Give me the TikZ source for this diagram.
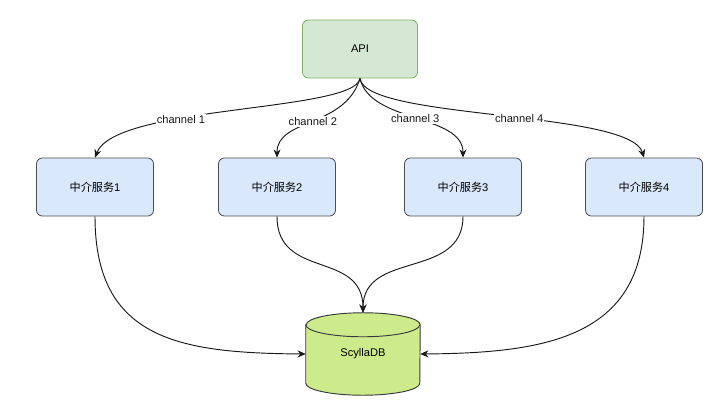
\documentclass[tikz,border=0pt]{standalone}
\usepackage{fontspec}
\setmainfont{Liberation Sans}
\newfontfamily\cjk{Noto Sans CJK SC}
\usepackage{tikz}
\usetikzlibrary{arrows.meta,positioning,backgrounds}
\definecolor{apigreen}{HTML}{D5E8D4}
\definecolor{apiedge}{HTML}{82B366}
\definecolor{svcblue}{HTML}{DAE8FC}
\definecolor{svcedge}{HTML}{4A4D52}
\definecolor{dbgreen}{HTML}{CDEB8B}
\definecolor{dbedge}{HTML}{36393D}

\begin{document}
\begin{tikzpicture}[x=0.03cm,y=-0.03cm,>={Stealth[length=7pt,width=6pt]},
    box/.style={rounded corners=5pt,line width=0.7pt,minimum height=1.74cm,font=\fontsize{9.5}{11}\selectfont},
    svc/.style={box,fill=svcblue,draw=svcedge,minimum width=3.51cm},
    link/.style={->,line width=0.8pt,black!90},
    chan/.style={fill=white,inner sep=1pt,font=\fontsize{9.5}{11}\selectfont}]
  \useasboundingbox (0,0) rectangle (720,414);
  \node[box,fill=apigreen,draw=apiedge,minimum width=3.45cm] (api) at (360,49) {API};
  \foreach \n/\x in {1/95,2/277,3/463,4/644}{
    \node[svc] (s\n) at (\x,187) {{\cjk 中介服务}\n};
  }
  % database cylinder
  \node[minimum width=3.42cm,minimum height=2.46cm,inner sep=0pt,font=\fontsize{9.5}{11}\selectfont] (db) at (363,354) {ScyllaDB};
  \begin{scope}[on background layer]
    \draw[dbedge,fill=dbgreen,line width=0.8pt] ([yshift=-0.36cm]db.north west) -- ([yshift=0.36cm]db.south west)
      arc[start angle=180,end angle=360,x radius=1.71cm,y radius=0.36cm]
      -- ([yshift=-0.36cm]db.north east)
      arc[start angle=0,end angle=180,x radius=1.71cm,y radius=0.36cm] -- cycle;
    \draw[dbedge,line width=0.8pt] ([yshift=-0.36cm]db.north west)
      arc[start angle=180,end angle=360,x radius=1.71cm,y radius=0.36cm];
  \end{scope}
  % channels
  \draw[link] (api.south) .. controls (355,112) and (115,105) .. (s1.north) node[chan,pos=0.64] {channel 1};
  \draw[link] (api.south) .. controls (345,128) and (277,118) .. (s2.north) node[chan,pos=0.5] {channel 2};
  \draw[link] (api.south) .. controls (370,123) and (463,114) .. (s3.north) node[chan,pos=0.5] {channel 3};
  \draw[link] (api.south) .. controls (365,120) and (630,110) .. (s4.north) node[chan,pos=0.55] {channel 4};
  % writes
  \draw[link] (s1.south) .. controls (95,340) and (180,353) .. (db.west);
  \draw[link] (s2.south) .. controls (277,280) and (363,250) .. (db.north);
  \draw[link] (s3.south) .. controls (463,280) and (363,250) .. (db.north);
  \draw[link] (s4.south) .. controls (644,340) and (540,353) .. (db.east);
\end{tikzpicture}
\end{document}
